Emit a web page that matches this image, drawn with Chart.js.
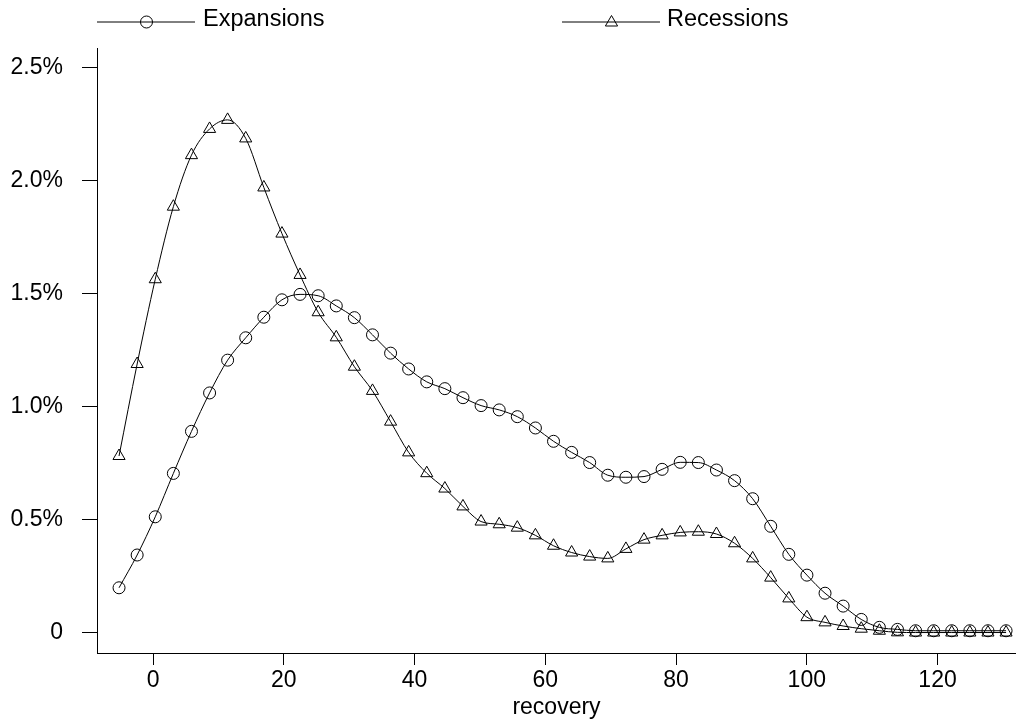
<!DOCTYPE html>
<html>
<head>
<meta charset="utf-8">
<script src="https://cdn.jsdelivr.net/npm/chart.js@4.4.1/dist/chart.umd.min.js"></script>
<style>
  html, body { margin: 0; padding: 0; background: #fff; }
  #wrap { position: relative; width: 1016px; height: 721px; overflow: hidden; }
  #c { position: absolute; left: 0; top: 0; }
  .leg { position: absolute; font-family: "Liberation Sans", Arial, sans-serif; font-size: 23.5px; line-height: 23.5px; color: #000; white-space: nowrap; }
  .sym { position: absolute; }
</style>
</head>
<body>
<div id="wrap">
  <canvas id="c" width="1016" height="721"></canvas>
  <svg class="sym" style="left:96px; top:12px;" width="100" height="20">
    <line x1="1" y1="10" x2="99" y2="10" stroke="#000" stroke-width="1"/>
    <circle cx="50.5" cy="10" r="6" fill="none" stroke="#000" stroke-width="1"/>
  </svg>
  <span class="leg" id="leg1" style="left:203px; top:7px;">Expansions</span>
  <svg class="sym" style="left:561px; top:12px;" width="100" height="20">
    <line x1="1" y1="10" x2="99" y2="10" stroke="#000" stroke-width="1"/>
    <polygon points="50.5,3.5 56.6,14 44.4,14" fill="none" stroke="#000" stroke-width="1"/>
  </svg>
  <span class="leg" id="leg2" style="left:667px; top:7px;">Recessions</span>
</div>
<script>
// recovery values (x) at which both series are evaluated
const recovery = [-5.2, -2.43, 0.34, 3.11, 5.88, 8.65, 11.41, 14.18, 16.95, 19.72,
  22.49, 25.26, 28.03, 30.80, 33.57, 36.34, 39.10, 41.87, 44.64, 47.41,
  50.18, 52.95, 55.72, 58.49, 61.26, 64.03, 66.79, 69.56, 72.33, 75.10,
  77.87, 80.64, 83.41, 86.18, 88.95, 91.72, 94.48, 97.25, 100.02, 102.79,
  105.56, 108.33, 111.10, 113.87, 116.64, 119.41, 122.17, 124.94, 127.71, 130.48];

// Expansions (percent)
const expansions = [0.200, 0.345, 0.514, 0.706, 0.892, 1.062, 1.207, 1.306, 1.397, 1.474,
  1.498, 1.492, 1.447, 1.395, 1.319, 1.238, 1.168, 1.111, 1.081, 1.041,
  1.006, 0.987, 0.957, 0.907, 0.848, 0.799, 0.754, 0.698, 0.689, 0.692,
  0.724, 0.755, 0.754, 0.721, 0.674, 0.594, 0.472, 0.348, 0.256, 0.176,
  0.119, 0.060, 0.025, 0.016, 0.010, 0.010, 0.010, 0.010, 0.010, 0.010];

// Recessions (percent)
const recessions = [0.783, 1.190, 1.565, 1.886, 2.114, 2.230, 2.270, 2.188, 1.971, 1.767,
  1.584, 1.419, 1.308, 1.178, 1.071, 0.935, 0.799, 0.707, 0.639, 0.560,
  0.493, 0.481, 0.466, 0.432, 0.386, 0.356, 0.338, 0.330, 0.372, 0.413,
  0.432, 0.445, 0.448, 0.438, 0.397, 0.330, 0.245, 0.153, 0.070, 0.047,
  0.031, 0.019, 0.010, 0.003, 0.002, 0.002, 0.002, 0.002, 0.002, 0.002];

const xTickValues = [0, 20, 40, 60, 80, 100, 120];
const yTickValues = [0, 0.5, 1.0, 1.5, 2.0, 2.5];

const FONT = '"Liberation Sans", Arial, sans-serif';

function toPoints(ys) { return recovery.map((x, i) => ({ x: x, y: ys[i] })); }

const common = {
  borderColor: '#000',
  borderWidth: 1,
  pointBorderColor: '#000',
  pointBackgroundColor: 'rgba(0,0,0,0)',
  pointBorderWidth: 1,
  cubicInterpolationMode: 'monotone',
  fill: false
};

new Chart(document.getElementById('c'), {
  type: 'line',
  data: {
    datasets: [
      Object.assign({ label: 'Expansions', data: toPoints(expansions), pointStyle: 'circle', pointRadius: 6 }, common),
      Object.assign({ label: 'Recessions', data: toPoints(recessions), pointStyle: 'triangle', pointRadius: 7 }, common)
    ]
  },
  options: {
    responsive: false,
    animation: false,
    devicePixelRatio: 1,
    layout: { autoPadding: false, padding: { top: 48, right: 0, bottom: 0, left: 0 } },
    plugins: { legend: { display: false }, tooltip: { enabled: false } },
    scales: {
      x: {
        type: 'linear',
        min: -8.57,
        max: 132,
        afterBuildTicks: s => { s.ticks = xTickValues.map(v => ({ value: v })); },
        afterFit: s => { s.height = 68; s.paddingRight = 0; s.paddingLeft = 0; },
        grid: { drawOnChartArea: false, drawTicks: true, tickLength: 12, color: '#000', lineWidth: 1 },
        border: { display: true, color: '#000', width: 1 },
        ticks: { color: '#000', font: { family: FONT, size: 23 }, padding: 2, maxRotation: 0, autoSkip: false },
        title: { display: true, text: 'recovery', color: '#000', font: { family: FONT, size: 23 }, padding: { top: 0, bottom: 0 } }
      },
      y: {
        type: 'linear',
        min: -0.0885,
        max: 2.588,
        afterBuildTicks: s => { s.ticks = yTickValues.map(v => ({ value: v })); },
        afterFit: s => { s.width = 97; },
        grid: { drawOnChartArea: false, drawTicks: true, tickLength: 15, color: '#000', lineWidth: 1 },
        border: { display: true, color: '#000', width: 1 },
        ticks: {
          color: '#000', font: { family: FONT, size: 23 }, padding: 19, autoSkip: false,
          callback: v => v === 0 ? '0' : v.toFixed(1) + '%'
        }
      }
    }
  }
});
</script>
</body>
</html>
